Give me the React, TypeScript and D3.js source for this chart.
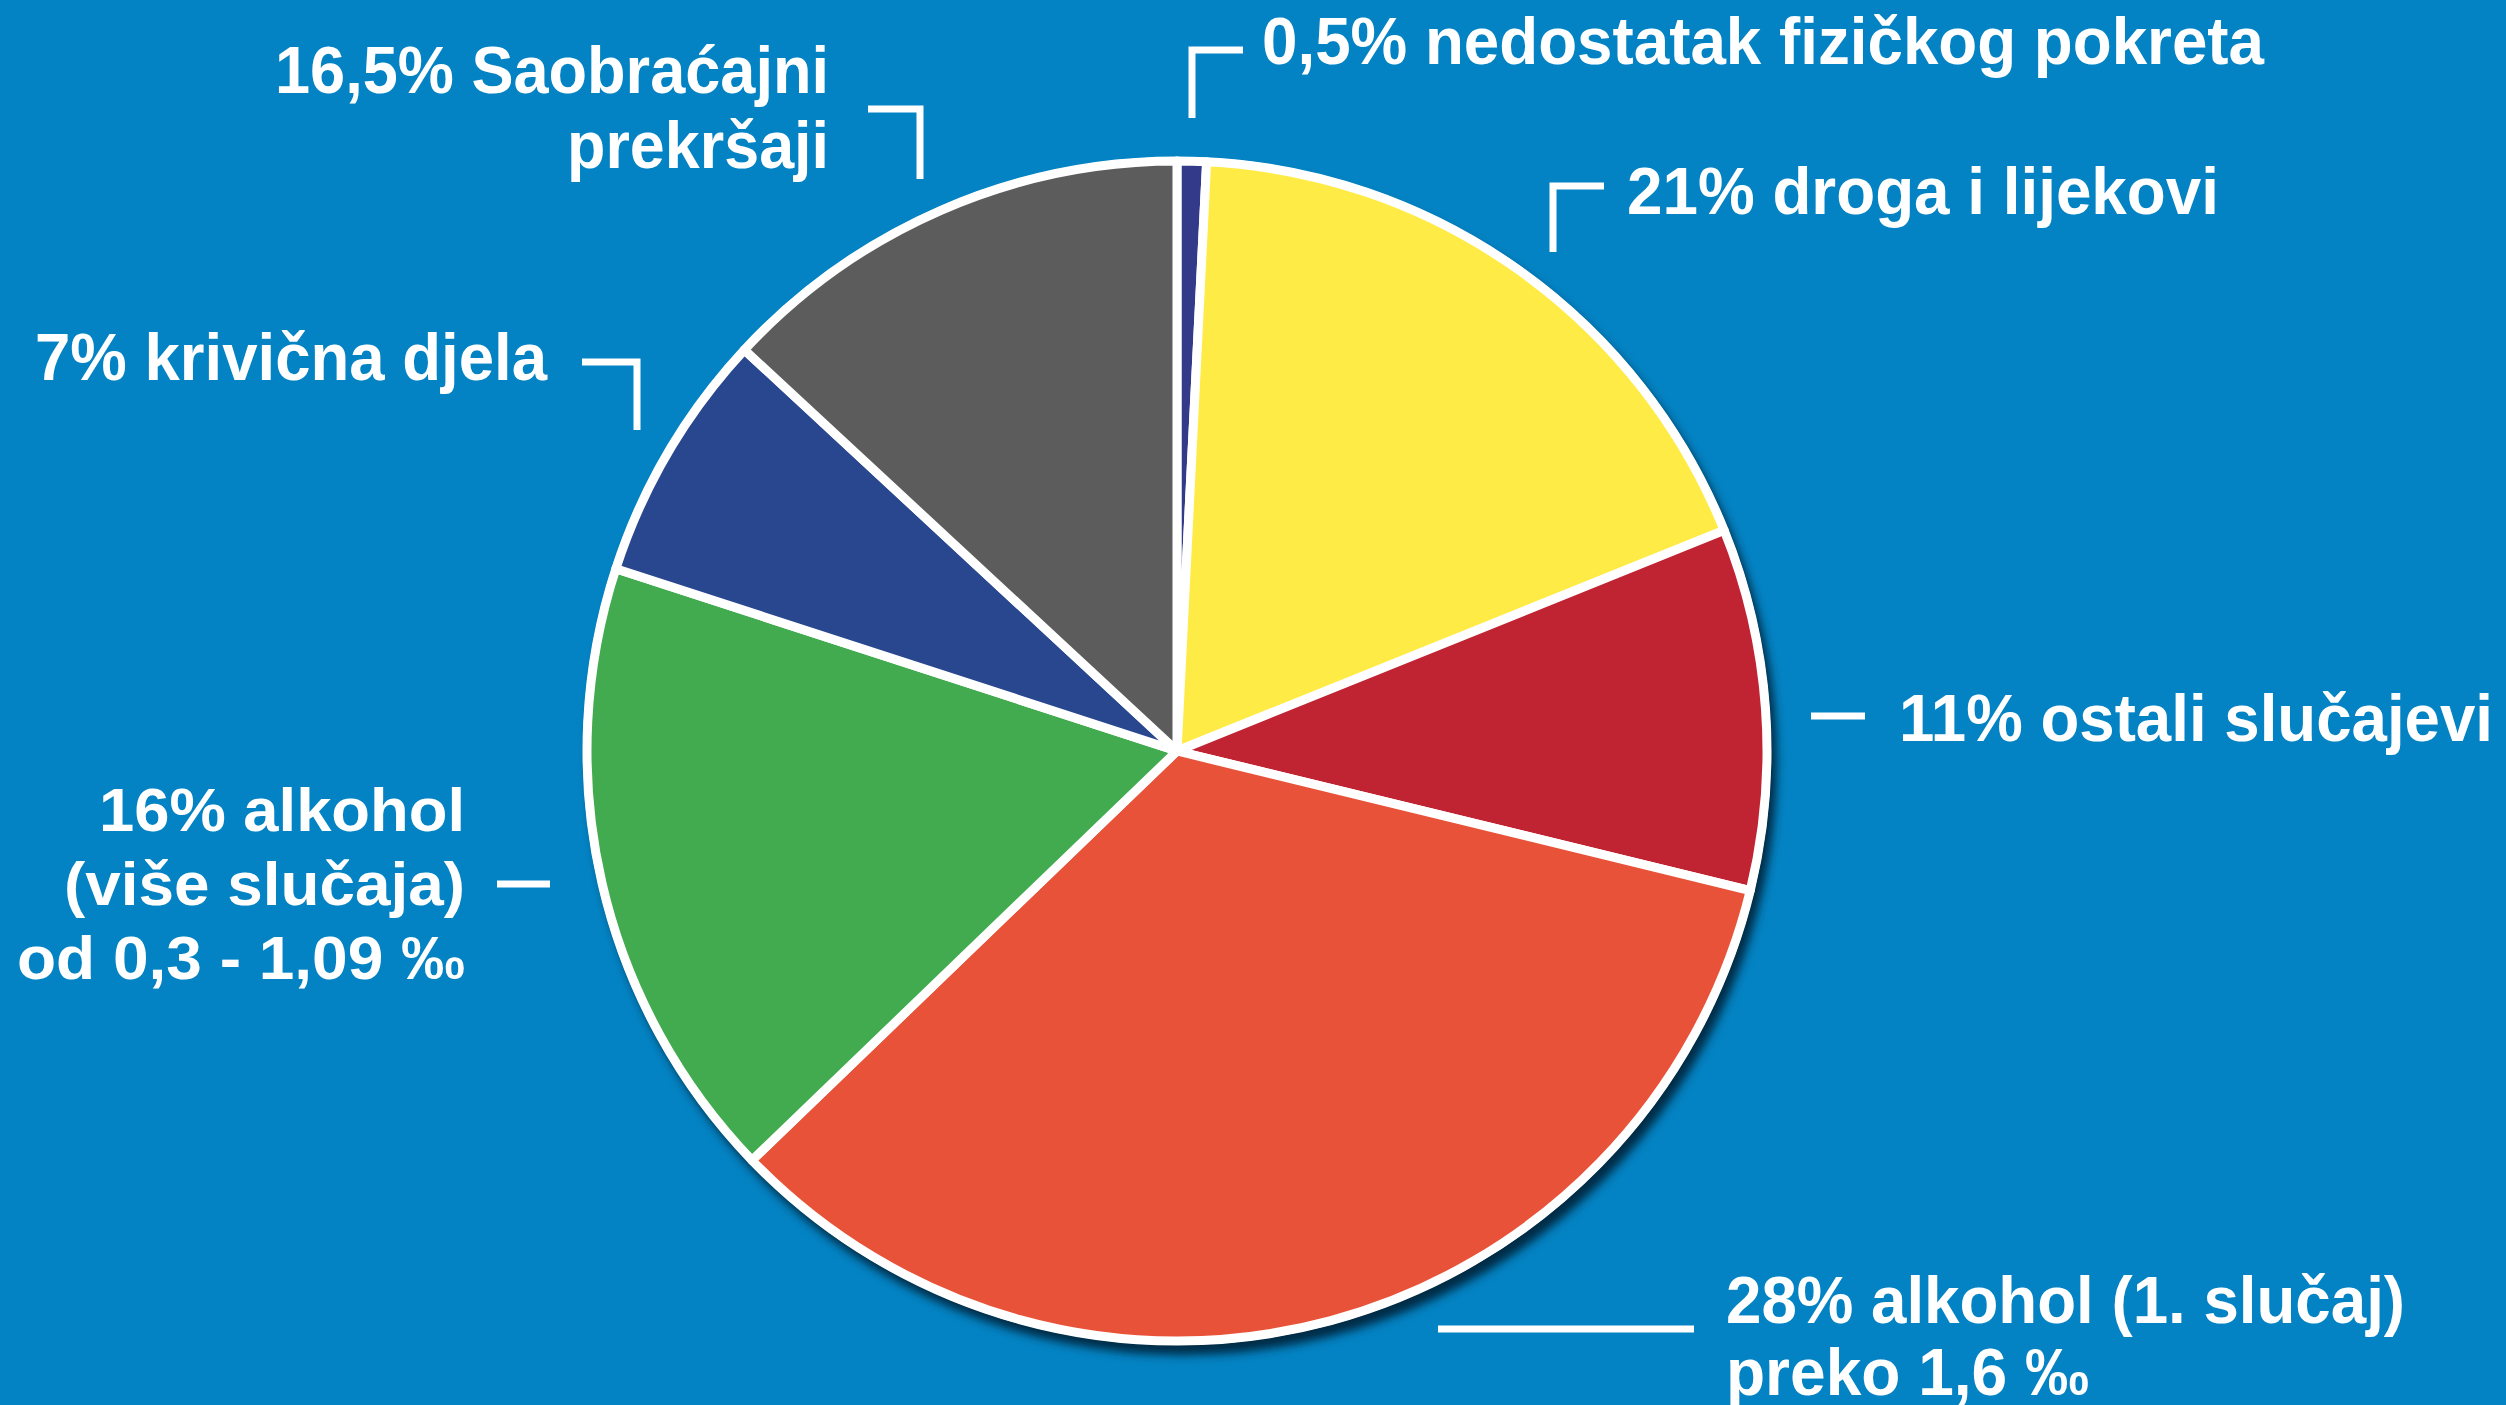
import React from "react";
import * as d3 from "d3";

const W = 2506;
const H = 1405;

// Slice order clockwise from 12 o'clock
const categories = [
  "nedostatak fizičkog pokreta",
  "droga i lijekovi",
  "ostali slučajevi",
  "alkohol (1. slučaj)",
  "alkohol (više slučaja)",
  "krivična djela",
  "Saobraćajni prekršaji",
];
// Angular shares as drawn in the picture (percent of circle)
const shares = [0.8, 18.1, 9.9, 34.0, 17.2, 6.9, 13.1];
const sliceColors = ["#333a8a", "#ffeb45", "#c02432", "#e85238", "#42ab4f", "#28478f", "#5c5c5c"];

// Label texts (lines) per slice
const labelLines: string[][] = [
  ["0,5% nedostatak fizičkog pokreta"],
  ["21% droga i lijekovi"],
  ["11% ostali slučajevi"],
  ["28% alkohol (1. slučaj)", "preko 1,6 ‰"],
  ["16% alkohol", "(više slučaja)", "od 0,3 - 1,09 ‰"],
  ["7% krivična djela"],
  ["16,5% Saobraćajni", "prekršaji"],
];

// Layout for labels
const labelLayout = [
  { x: 1262, y: 64, step: 0, anchor: "start", widths: [1002], narrow: true },
  { x: 1627, y: 214, step: 0, anchor: "start", widths: [592], narrow: true },
  { x: 1899, y: 741, step: 0, anchor: "start", widths: [594], narrow: true },
  { x: 1726, y: 1323, step: 72, anchor: "start", widths: [679, 363], narrow: true },
  { x: 465, y: 831, step: 74, anchor: "end", widths: [366, 401, 448], narrow: false },
  { x: 547, y: 380, step: 0, anchor: "end", widths: [512], narrow: true },
  { x: 829, y: 93, step: 75, anchor: "end", widths: [554, 262], narrow: true },
];

// Leader lines (polyline points) per label
const leaders: [number, number][][] = [
  [[1243, 50], [1192, 50], [1192, 118]],
  [[1604, 186], [1553, 186], [1553, 252]],
  [[1811, 716], [1865, 716]],
  [[1438, 1329], [1694, 1329]],
  [[497, 884], [550, 884]],
  [[582, 362], [637, 362], [637, 430]],
  [[868, 109], [920, 109], [920, 179]],
];

const CX = 1177;
const CY = 751;
const R = 590;

export default function App() {
  const pie = d3
    .pie<number>()
    .sort(null)
    .value((d) => d)
    .startAngle(0)
    .endAngle(2 * Math.PI);
  const arcs = pie(shares);
  const arc = d3.arc<d3.PieArcDatum<number>>().innerRadius(0).outerRadius(R);

  return (
    <svg
      width={W}
      height={H}
      viewBox={`0 0 ${W} ${H}`}
      style={{ position: "absolute", left: 0, top: 0, display: "block" }}
    >
      <defs>
        <filter id="sh" x="-10%" y="-10%" width="130%" height="130%">
          <feGaussianBlur stdDeviation="5" />
        </filter>
      </defs>
      <rect width={W} height={H} fill="#0383c3" />
      <circle cx={CX + 6} cy={CY + 10} r={R + 4} fill="#002a45" filter="url(#sh)" />
      <g transform={`translate(${CX},${CY})`}>
        <circle r={R + 4} fill="#ffffff" />
        {arcs.map((a, i) => (
          <path
            key={categories[i]}
            d={arc(a) || ""}
            fill={sliceColors[i]}
            stroke="#ffffff"
            strokeWidth={9}
            strokeLinejoin="round"
          />
        ))}
      </g>
      <g stroke="#ffffff" strokeWidth={7} fill="none">
        {leaders.map((pts, i) => (
          <polyline key={i} points={pts.map((p) => p.join(",")).join(" ")} />
        ))}
      </g>
      <g fill="#ffffff" fontWeight="bold">
        {labelLines.map((lines, i) =>
          lines.map((t, j) => {
            const L = labelLayout[i];
            return (
              <text
                key={i + "-" + j}
                x={L.x}
                y={L.y + j * L.step}
                textAnchor={L.anchor as any}
                textLength={L.widths[j]}
                lengthAdjust="spacingAndGlyphs"
                fontFamily={
                  L.narrow
                    ? "'Liberation Sans Narrow', 'Arial Narrow', 'Liberation Sans', sans-serif"
                    : "'Liberation Sans', Arial, sans-serif"
                }
                fontSize={L.narrow ? 67 : 62}
              >
                {t}
              </text>
            );
          })
        )}
      </g>
    </svg>
  );
}
